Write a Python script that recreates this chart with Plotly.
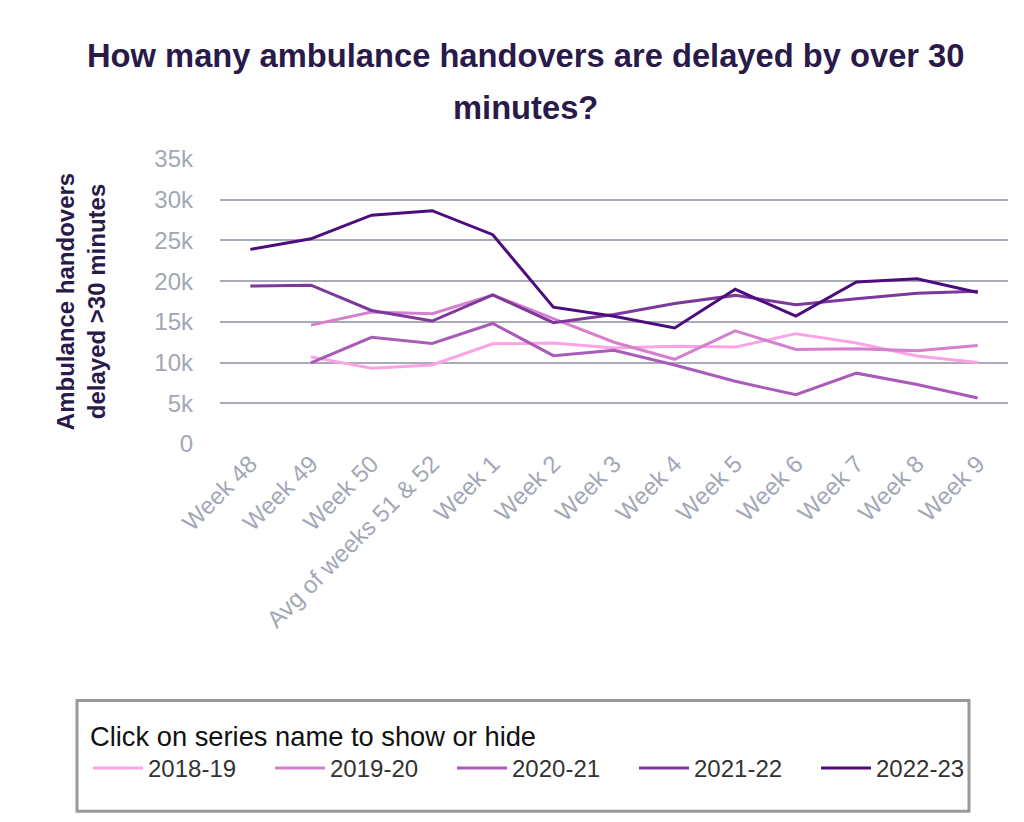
import plotly.graph_objects as go

weeks = ["Week 48", "Week 49", "Week 50", "Avg of weeks 51 & 52", "Week 1", "Week 2",
         "Week 3", "Week 4", "Week 5", "Week 6", "Week 7", "Week 8", "Week 9"]

s2018_19 = [None, 10700, 9300, 9700, 12300, 12400, 11800, 12000, 11900, 13550, 12400, 10800, 10000]
s2019_20 = [None, 14600, 16200, 16000, 18300, 15400, 12500, 10400, 13900, 11600, 11700, 11450, 12100]
s2020_21 = [None, 9950, 13100, 12350, 14800, 10850, 11500, 9700, 7700, 6050, 8700, 7300, 5650]
s2021_22 = [19400, 19500, 16400, 15100, 18300, 14900, 15900, 17250, 18250, 17100, 17850, 18500, 18750]
s2022_23 = [23900, 25200, 28100, 28650, 25700, 16800, 15700, 14250, 19000, 15700, 19900, 20300, 18600]

series = [
    ("2018-19", s2018_19, "#fca3e6"),
    ("2019-20", s2019_20, "#d580cc"),
    ("2020-21", s2020_21, "#aa5ab8"),
    ("2021-22", s2021_22, "#7d389c"),
    ("2022-23", s2022_23, "#4c0c7e"),
]

FONT = "Arial, Liberation Sans, sans-serif"
TITLE_COL = "#2a1a4a"
TICK_COL = "#a3a7b5"

fig = go.Figure()
for name, vals, col in series:
    fig.add_trace(go.Scatter(x=weeks, y=vals, name=name, mode="lines",
                             line=dict(color=col, width=3)))

# page body has an 8px margin, so figure coords = screen coords - 8
# plot area on screen: x 220..1008, y 159..444
def px(x):
    return (x - 220) / 788

def py(y):
    return (444.3 - y) / 285.3

fig.update_layout(
    width=1016, height=814,
    margin=dict(l=212, r=16, t=151, b=378, autoexpand=False),
    plot_bgcolor="white", paper_bgcolor="white",
    font=dict(family=FONT),
    showlegend=True,
    legend=dict(
        orientation="h", x=px(88), y=py(711), xanchor="left", yanchor="top",
        title=dict(text="Click on series name to show or hide", side="top",
                   font=dict(size=27.3, color="#111111")),
        font=dict(size=24, color="#333333"),
        itemwidth=50,
        entrywidth=117, entrywidthmode="pixels",
        bgcolor="rgba(0,0,0,0)", borderwidth=0,
    ),
    xaxis=dict(
        type="category", range=[-0.5, 12.5], showgrid=False, showline=False,
        tickangle=-45, tickfont=dict(size=24, color=TICK_COL), ticks="",
    ),
    yaxis=dict(
        range=[0, 35000], tickvals=[0, 5000, 10000, 15000, 20000, 25000, 30000, 35000],
        ticktext=["0", "5k", "10k", "15k", "20k", "25k", "30k", "35k"],
        showgrid=True, gridcolor="#a9acb8", gridwidth=2, zeroline=False,
        tickfont=dict(size=24, color=TICK_COL), ticklabelstandoff=26,
        title=dict(text="<b>Ambulance handovers<br>delayed >30 minutes</b>",
                   font=dict(size=24, color=TITLE_COL, family=FONT), standoff=41),
    ),
    shapes=[dict(type="rect", xref="paper", yref="paper",
                 x0=px(77), x1=px(969), y0=py(812), y1=py(701),
                 line=dict(color="#999999", width=3), fillcolor="rgba(0,0,0,0)")],
)

# two-line title with wider spacing than plotly's default
fig.add_annotation(text="<b>How many ambulance handovers are delayed by over 30</b>",
                   xref="paper", yref="paper", x=px(525), y=py(55), showarrow=False,
                   xanchor="center", yanchor="middle",
                   font=dict(size=32.7, color=TITLE_COL, family=FONT))
fig.add_annotation(text="<b>minutes?</b>",
                   xref="paper", yref="paper", x=px(525), y=py(107), showarrow=False,
                   xanchor="center", yanchor="middle",
                   font=dict(size=32.7, color=TITLE_COL, family=FONT))

fig.write_html("out.html")
